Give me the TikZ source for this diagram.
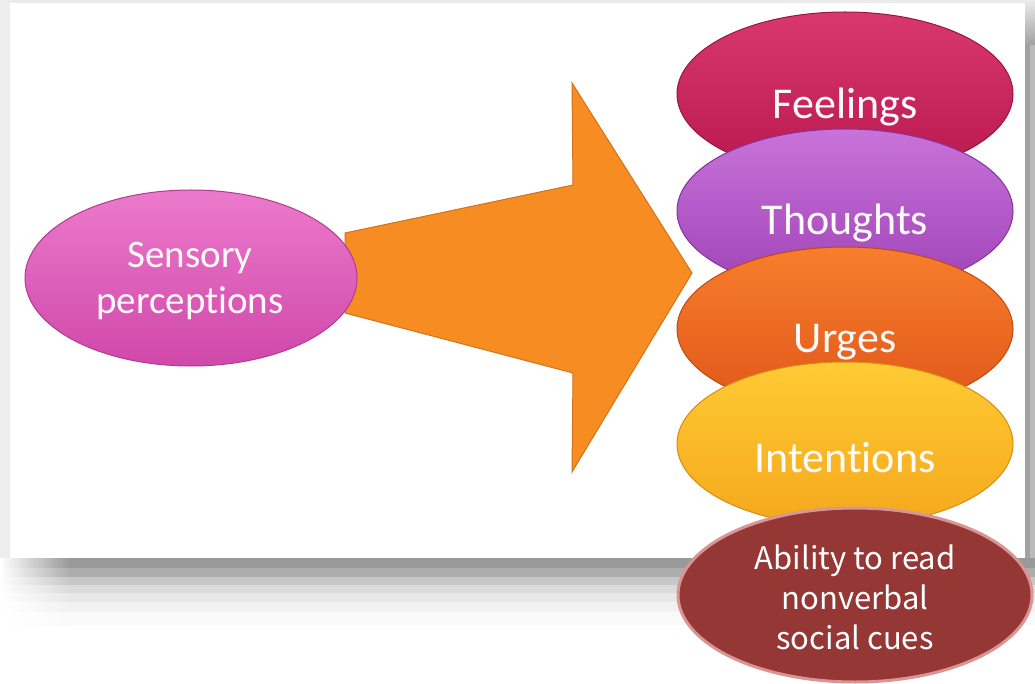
\documentclass[tikz,border=0pt]{standalone}
\usepackage{fontspec}
\setmainfont{Carlito}[Ligatures=NoCommon]
\newfontfamily\jpfont{Noto Sans CJK JP}
\usetikzlibrary{shapes.geometric}

\definecolor{pinkTop}{HTML}{EC7ACB}
\definecolor{pinkBot}{HTML}{CF48AA}
\definecolor{pinkEdge}{HTML}{B23A92}
\definecolor{feelTop}{HTML}{D8386E}
\definecolor{feelBot}{HTML}{B8184E}
\definecolor{feelEdge}{HTML}{9A1442}
\definecolor{thoTop}{HTML}{C873DA}
\definecolor{thoBot}{HTML}{9E42B6}
\definecolor{thoEdge}{HTML}{85339C}
\definecolor{urgTop}{HTML}{F77E2C}
\definecolor{urgBot}{HTML}{E0561A}
\definecolor{urgEdge}{HTML}{C04A12}
\definecolor{intTop}{HTML}{FFCB34}
\definecolor{intBot}{HTML}{F4A81C}
\definecolor{intEdge}{HTML}{D88E10}
\definecolor{arrowFill}{HTML}{F78D22}
\definecolor{arrowEdge}{HTML}{D0741A}
\definecolor{cueFill}{HTML}{953735}
\definecolor{cueEdge}{HTML}{D99594}

\tikzset{
  blob/.style={ellipse, inner sep=0pt, minimum width=336pt, minimum height=164pt, line width=1pt},
  blobtext/.style={text=white!94!pink, font=\fontsize{44}{48}\selectfont, inner sep=0pt},
}

\begin{document}
\begin{tikzpicture}[x=1pt, y=-1pt]
  \useasboundingbox (0,0) rectangle (1035,684);
  \fill[white] (0,0) rectangle (1035,684);

  % frame of the card: thin grey rims top and left
  \fill[black!8] (0,0) rectangle (1035,3);
  \fill[black!7] (0,0) rectangle (10,558);
  % right-hand shadow
  \shade[top color=black!10, bottom color=black!37] (1025,3) rectangle (1035,45);
  \fill[black!37] (1025,45) rectangle (1030,560);
  \fill[black!27] (1030,45) rectangle (1035,560);
  % stepped drop shadow under the card, fading out to the left
  \foreach \ya/\yb/\g in {558/568/40, 568/577/32, 577/585/22, 585/593/14, 593/602/9, 602/612/5, 612/625/2}{
    \shade[left color=white, right color=black!\g] (0,\ya) rectangle (70,\yb);
    \fill[black!\g] (70,\ya) rectangle (1035,\yb);
  }
  % the card itself
  \fill[white] (10,3) rectangle (1025,558);

  % block arrow from the senses to the inner states
  \coordinate (tailTop) at (345,233);
  \coordinate (shaftTop) at (573,185);
  \coordinate (headTop) at (572,83);
  \coordinate (tip) at (692,273);
  \coordinate (headBot) at (572,472);
  \coordinate (shaftBot) at (573,373);
  \coordinate (tailBot) at (345,313);
  \fill[arrowFill, draw=arrowEdge, line width=1pt, line join=miter]
    (tailTop) -- (shaftTop) -- (headTop) -- (tip) -- (headBot) -- (shaftBot) -- (tailBot) -- cycle;

  % source ellipse
  \node[blob, top color=pinkTop, bottom color=pinkBot, draw=pinkEdge,
        minimum width=332pt, minimum height=176pt] (sens) at (191,278) {};
  \node[text=white!92!pink, font=\fontsize{39}{46}\selectfont, align=center, inner sep=0pt]
        (sensT) at (190,281) {Sensory\\perceptions};

  % stacked inner states
  \node[blob, top color=feelTop, bottom color=feelBot, draw=feelEdge] (feel) at (845,94) {};
  \node[blobtext] (feelT) at (845,107) {Feelings};
  \node[blob, top color=thoTop, bottom color=thoBot, draw=thoEdge] (tho) at (845,211) {};
  \node[blobtext] (thoT) at (845,223) {Thoughts};
  \node[blob, top color=urgTop, bottom color=urgBot, draw=urgEdge] (urg) at (845,329) {};
  \node[blobtext] (urgT) at (845,342) {Urges};
  \node[blob, top color=intTop, bottom color=intBot, draw=intEdge] (int) at (845,444) {};
  \node[blobtext] (intT) at (845,458) {Intentions};

  % summary ellipse
  \node[ellipse, inner sep=0pt, minimum width=354pt, minimum height=174pt,
        fill=cueFill, draw=cueEdge, line width=3pt] (cue) at (855,595) {};
  \node[text=white, font=\jpfont\fontsize{31}{40}\selectfont, align=center, inner sep=0pt]
        (cueT) at (855,597) {Ability to read\\nonverbal\\social cues};
\end{tikzpicture}
\end{document}
